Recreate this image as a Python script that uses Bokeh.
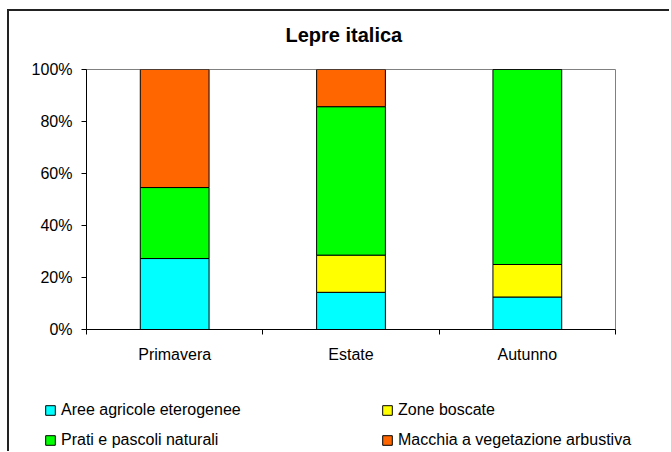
from bokeh.plotting import figure
from bokeh.layouts import column
from bokeh.models import (FixedTicker, PrintfTickFormatter, Legend, LegendItem,
                          ColumnDataSource, Range1d)
from bokeh.embed import file_html
from bokeh.resources import INLINE

title_text = "Lepre italica"
seasons = ["Primavera", "Estate", "Autunno"]
series = ["Aree agricole eterogenee", "Zone boscate",
          "Prati e pascoli naturali", "Macchia a vegetazione arbustiva"]
aree = [27.3, 14.3, 12.5]
zone = [0.0, 14.3, 12.5]
prati = [27.3, 57.1, 75.0]
macchia = [45.4, 14.3, 0.0]
colors = ["#00FFFF", "#FFFF00", "#00FF00", "#FF6600"]
y_ticks = [0, 20, 40, 60, 80, 100]

FONT = "Liberation Sans"

xpos = [i + 0.5 for i in range(len(seasons))]
bounds = list(range(len(seasons) + 1))
keys = ["aree", "zone", "prati", "macchia"]
src = ColumnDataSource(dict(x=xpos, aree=aree, zone=zone, prati=prati, macchia=macchia))

W = 660

# title strip
t = figure(width=W, height=46, output_backend="svg", toolbar_location=None,
           x_range=Range1d(0, 1), y_range=Range1d(0, 1), min_border=0,
           min_border_top=39, x_axis_location=None, y_axis_location=None)
t.frame_align = False
t.xgrid.visible = False
t.ygrid.visible = False
t.outline_line_color = None
t.title.text = title_text
t.title.text_font = FONT
t.title.text_font_size = "20px"
t.title.text_font_style = "bold"
t.title.text_color = "black"
t.title.align = "left"
t.title.offset = 276
t.title.standoff = 10

# chart
p = figure(width=W, height=322, output_backend="svg", toolbar_location=None,
           x_range=Range1d(0, len(seasons)), y_range=Range1d(0, 100),
           min_border_left=77, min_border_right=54, min_border_top=12,
           min_border_bottom=50)
p.frame_align = False

rs = p.vbar_stack(keys, x="x", width=0.39, source=src, fill_color=colors,
                  line_color="black", line_width=1)

p.xgrid.visible = False
p.ygrid.visible = False
p.outline_line_color = "#808080"
p.outline_line_width = 1
p.background_fill_color = "white"
p.border_fill_color = "white"

p.xaxis.ticker = FixedTicker(ticks=xpos, minor_ticks=bounds)
p.xaxis.major_label_overrides = {x: s for x, s in zip(xpos, seasons)}
p.xaxis.major_tick_out = 0
p.xaxis.major_tick_in = 0
p.xaxis.minor_tick_out = 5
p.xaxis.minor_tick_in = 0
p.xaxis.minor_tick_line_color = "black"
p.xaxis.major_label_standoff = 11

p.yaxis.ticker = FixedTicker(ticks=y_ticks)
p.yaxis.formatter = PrintfTickFormatter(format="%d%%")
p.yaxis.major_tick_out = 5
p.yaxis.major_tick_in = 0
p.yaxis.major_label_standoff = 9

for ax in (p.xaxis, p.yaxis):
    ax.axis_line_color = "black"
    ax.axis_line_width = 1
    ax.major_tick_line_color = "black"
    ax.major_label_text_font = FONT
    ax.major_label_text_font_size = "16px"
    ax.major_label_text_color = "black"

# legend strip; its ranges keep the sample bars out of view
q = figure(width=W, height=72, output_backend="svg", toolbar_location=None,
           x_range=Range1d(10, 11), y_range=Range1d(1000, 1001), min_border=0,
           x_axis_location=None, y_axis_location=None)
q.frame_align = False
q.xgrid.visible = False
q.ygrid.visible = False
q.outline_line_color = None
lr = q.vbar_stack(keys, x="x", width=0.39, source=src, fill_color=colors,
                  line_color="black", line_width=1)

order = [0, 2, 1, 3]
items = [LegendItem(label=series[i], renderers=[lr[i]]) for i in order]
legend = Legend(items=items, location=(35, 1), orientation="vertical", ncols=2,
                padding=0, margin=0, border_line_color=None,
                background_fill_alpha=0, glyph_width=12, glyph_height=12,
                label_height=20, label_standoff=5, label_width=310, spacing=10,
                label_text_font=FONT, label_text_font_size="16px",
                label_text_color="black")
q.add_layout(legend, "center")

layout = column(t, p, q, spacing=0,
                styles={"border-left": "2px solid #222222",
                        "border-top": "2px solid #222222",
                        "margin-left": "7px", "margin-top": "9px"})

open("out.html", "w").write(file_html(layout, INLINE))
